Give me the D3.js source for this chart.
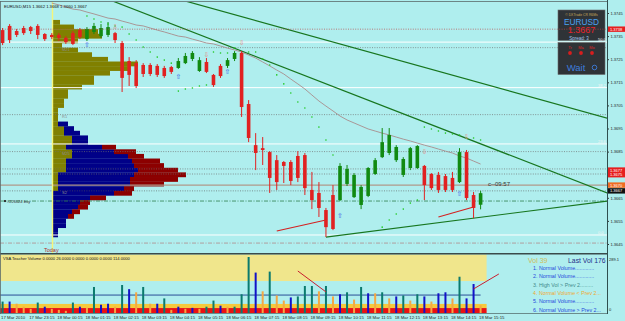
<!DOCTYPE html>
<html><head><meta charset="utf-8">
<script src="https://d3js.org/d3.v7.min.js"></script>
<style>
html,body{margin:0;padding:0;background:#afeeee;}
svg{display:block;font-family:"Liberation Sans",Arial,sans-serif;}
</style></head><body>
<svg id="chart" width="625" height="321"></svg>
<script>
// ================= DATA =================
const timeLabels=["17 Mar 2010","17 Mar 23:15","18 Mar 00:15","18 Mar 01:15","18 Mar 02:15","18 Mar 03:15","18 Mar 04:15","18 Mar 05:15","18 Mar 06:15","18 Mar 07:15","18 Mar 08:15","18 Mar 09:15","18 Mar 10:15","18 Mar 11:15","18 Mar 12:15","18 Mar 13:15","18 Mar 14:15","18 Mar 15:15"];
const open=[1.37376,1.37394,1.37372,1.37385,1.37389,1.37394,1.37359,1.37355,1.37355,1.37342,
1.37363,1.37376,1.37337,1.37368,1.37350,1.37355,1.37363,1.37320,1.37242,1.37233,
1.37225,1.37225,1.37221,1.37212,1.37216,1.37212,1.37233,1.37251,1.37199,1.37238,
1.37182,1.37221,1.37221,1.37251,1.37277,1.37056,1.36878,1.36865,1.36848,1.36813,
1.36805,1.36805,1.36831,1.36835,1.36684,1.36671,1.36597,1.36662,1.36640,1.36710,
1.36653,1.36619,1.36658,1.36753,1.36826,1.36844,1.36813,1.36749,1.36779,1.36779,
1.36788,1.36753,1.36749,1.36744,1.36736,1.36718,1.36848,1.36662,1.36620];
const high=[1.37385,1.37402,1.37381,1.37394,1.37394,1.37402,1.37363,1.37363,1.37363,1.37350,
1.37372,1.37385,1.37389,1.37407,1.37402,1.37411,1.37368,1.37329,1.37259,1.37246,
1.37233,1.37233,1.37229,1.37221,1.37221,1.37255,1.37277,1.37285,1.37259,1.37255,
1.37186,1.37229,1.37255,1.37285,1.37285,1.37073,1.36930,1.36913,1.36852,1.36835,
1.36809,1.36813,1.36852,1.36844,1.36762,1.36718,1.36606,1.36705,1.36800,1.36792,
1.36757,1.36705,1.36783,1.36822,1.36952,1.36952,1.36878,1.36826,1.36870,1.36878,
1.36792,1.36757,1.36762,1.36753,1.36762,1.36865,1.36857,1.36675,1.36680];
const low=[1.37311,1.37320,1.37346,1.37355,1.37359,1.37337,1.37329,1.37337,1.37329,1.37316,
1.37311,1.37337,1.37329,1.37359,1.37342,1.37346,1.37320,1.37108,1.37134,1.37125,
1.37173,1.37177,1.37173,1.37169,1.37186,1.37208,1.37229,1.37242,1.37195,1.37190,
1.37130,1.37169,1.37212,1.37242,1.37000,1.36891,1.36770,1.36792,1.36671,1.36684,
1.36714,1.36705,1.36718,1.36662,1.36601,1.36567,1.36480,1.36510,1.36636,1.36701,
1.36649,1.36601,1.36653,1.36749,1.36822,1.36835,1.36805,1.36740,1.36770,1.36775,
1.36640,1.36684,1.36671,1.36675,1.36675,1.36714,1.36640,1.36562,1.36600];
const close=[1.37320,1.37333,1.37355,1.37363,1.37372,1.37355,1.37337,1.37346,1.37342,1.37324,
1.37316,1.37346,1.37381,1.37394,1.37385,1.37389,1.37333,1.37169,1.37182,1.37134,
1.37186,1.37186,1.37182,1.37177,1.37195,1.37242,1.37264,1.37277,1.37246,1.37195,
1.37138,1.37177,1.37246,1.37277,1.37043,1.36909,1.36844,1.36857,1.36736,1.36718,
1.36788,1.36723,1.36736,1.36692,1.36640,1.36606,1.36523,1.36515,1.36788,1.36775,
1.36749,1.36697,1.36779,1.36813,1.36891,1.36922,1.36870,1.36818,1.36865,1.36874,
1.36705,1.36692,1.36684,1.36684,1.36684,1.36848,1.36649,1.36606,1.36670];
const sar=[null,null,null,null,null,null,null,null,null,null,null,null,
1.37437,1.37424,1.37411,1.37402,1.37394,1.37389,1.37359,1.37333,
1.37303,1.37281,1.37259,1.37246,1.37233,1.37112,1.37121,1.37125,1.37134,1.37138,
1.37281,1.37277,1.37277,1.37298,null,1.37281,1.37281,1.37251,1.37225,1.37182,
1.37143,1.37104,1.37065,1.37039,1.37000,1.36956,1.36900,1.36835,null,null,
null,null,null,null,1.36523,1.36554,1.36580,1.36601,1.36627,1.36640,
1.36956,1.36948,1.36939,1.36930,1.36926,1.36922,1.36909,1.36909,1.36900];
const ma=[null,null,null,null,null,null,null,1.37493,1.37485,1.37476,
1.37467,1.37463,1.37454,1.37446,1.37437,1.37428,1.37424,1.37415,1.37407,1.37398,
1.37394,1.37385,1.37376,1.37368,1.37359,1.37350,1.37346,1.37337,1.37329,1.37320,
1.37316,1.37307,1.37298,1.37290,1.37281,1.37268,1.37255,1.37238,1.37221,1.37203,
1.37186,1.37164,1.37143,1.37121,1.37095,1.37069,1.37047,1.37026,1.37004,1.36987,
1.36974,1.36961,1.36948,1.36939,1.36930,1.36922,1.36913,1.36904,1.36896,1.36887,
1.36878,1.36870,1.36861,1.36852,1.36844,1.36831,1.36822,1.36809,1.36796];
const volume=[58,58,47,32,21,53,32,21,16,11,53,32,26,132,42,47,32,142,121,105,132,47,47,74,16,32,21,26,21,32,63,37,32,32,95,284,205,110,210,89,63,79,84,137,137,110,137,84,95,105,68,132,100,100,105,74,84,89,63,95,84,58,100,105,74,184,74,147,39];
const volType=["T","B","O","O","O","T","B","O","O","O","T","B","O","T","B","B","O","T","B","O","T","O","B","T","O","B","O","B","O","T","T","B","O","T","T","T","B","O","T","O","O","B","T","T","T","O","T","O","B","T","O","T","B","O","T","O","B","T","O","T","B","O","B","B","O","T","B","B","O"];
const volAverage=91, volKhakiFrom=162, volYellowFrom=25, volYellowTo=46, volMax=289.1;
const priceTicks=[1.3745,1.3735,1.3725,1.3715,1.3705,1.3695,1.3685,1.3665,1.3655,1.3645];
const profTop=1.3742, profStep=0.0002;
const profOlive=[4,11,23,25,13,5,13,20,28,43,38,29,21,21,15,8,8,6,6,3,3,3,3,6,6,10,10,7,10,10,7,7,7,3,3,3,3,0,0,0,0,0,0,0,0,0,0];
const profBlue=[0,0,0,0,0,0,0,0,0,0,0,0,0,0,0,0,0,0,0,0,0,0,5,5,8,8,8,18,21,28,33,34,36,38,36,36,33,31,19,14,13,10,8,7,7,3,3];
const profRed=[0,0,0,0,0,0,0,0,0,0,0,0,0,0,0,0,0,0,0,0,0,0,0,0,0,0,0,7,11,8,14,15,20,26,24,17,5,9,8,5,5,4,3,0,0,0,0];
const fibLow=1.36489, fibHigh=1.38159, fibLevels=[0,23.6,38.2,50.0];
const dottedLevels=[1.3730,1.3701,1.3685,1.36775,1.36753];
const pivotNames=["M21","R1","M25","S2"], pivotPrices=[1.3730,1.3701,1.3685,1.3668];
const topLevel=1.3738, solidLevel=1.36705, bidLevel=1.3668, orderLevel=1.36636, lowLevel=1.36454;
const trendLines=[[[25.5,1.37506],[86,1.36995]],[[15.3,1.37506],[86,1.36671]],[[46,1.36480],[86,1.36636]]];
const redLinesMain=[[[39,1.36506],[46,1.36554]],[[62,1.36567],[67,1.36610]]];
const redLinesVol=[[[42,213],[46,107]],[[67,122],[70.6,198]]];
const upBars=[12,25,32,48,65], upPrices=[1.37311,1.37173,1.37195,1.36571,1.36666];
const downBars=[16,29,34,60,66], downPrices=[1.37389,1.37268,1.37320,1.36848,1.36913];
const redTags=[1.3738,1.3677,1.3675];
const legendItems=["1. Normal Volume.............","2. Normal Volume.............","3. High Vol > Prev 2.........","4. Normal Volume < Prev 2...","5. Normal Volume.............","6. Normal Volume > Prev 2..."];

// ================= SCALES =================
const svg=d3.select("#chart");
const x=d3.scaleLinear().domain([0,68]).range([2.6,480.6]);
const y=d3.scaleLinear().domain([1.3645,1.3745]).range([244,13]);
const yv=d3.scaleLinear().domain([0,volMax]).range([313,256]);
const px=d3.scaleLinear().domain([0,1]).range([52,54]);
const AX=607;

svg.append("rect").attr("width",625).attr("height",321).attr("fill","#afeeee");
svg.append("defs").append("clipPath").attr("id","main").append("rect").attr("x",0).attr("y",2).attr("width",AX).attr("height",251);
const main=svg.append("g").attr("clip-path","url(#main)");

// ---- profile ----
const bins=d3.range(profOlive.length);
const prof=main.append("g");
function profRect(arr,startArr,color){
  prof.selectAll(null).data(bins.filter(i=>arr[i]>0)).enter().append("rect")
   .attr("x",i=>px(startArr(i))).attr("width",i=>px(arr[i])-px(0))
   .attr("y",i=>y(profTop-profStep*i)).attr("height",i=>y(profTop-profStep*(i+1))-y(profTop-profStep*i)+0.2)
   .attr("fill",color);
}
profRect(profOlive,i=>0,"#808000");
profRect(profBlue,i=>profOlive[i],"#000088");
profRect(profRed,i=>profOlive[i]+profBlue[i],"#8c0000");

// ---- horizontal levels ----
function hline(g,v,color,w,dash){
  g.append("line").attr("x1",0).attr("x2",AX).attr("y1",y(v)).attr("y2",y(v))
   .attr("stroke",color).attr("stroke-width",w).attr("stroke-dasharray",dash||null);
}
fibLevels.forEach(l=>hline(main,fibLow+(fibHigh-fibLow)*l/100,"#ffffff",1));
dottedLevels.forEach(v=>hline(main,v,"#6e6e6e",0.7,"1,1.4"));
hline(main,solidLevel,"#b0988a",1.1);
hline(main,bidLevel,"#555555",0.6,"1,1.4");
hline(main,orderLevel,"#2f7f4f",0.8,"4,1.5,1,1.5");
hline(main,lowLevel,"#b09494",0.9,"4,1.5,1,1.5");
pivotNames.forEach((n,i)=>main.append("text").attr("x",62).attr("y",y(pivotPrices[i])+3.5).attr("font-size",4).attr("fill","#8a8a8a").text(n));

// today separator
main.append("line").attr("x1",52.5).attr("x2",52.5).attr("y1",2).attr("y2",253).attr("stroke","#f6f67a").attr("stroke-width",1.4);

// trend lines
const line=d3.line().x(d=>x(d[0])).y(d=>y(d[1]));
trendLines.forEach(t=>main.append("path").attr("d",line(t)).attr("stroke","#17761f").attr("stroke-width",1.2).attr("fill","none"));
redLinesMain.forEach(t=>main.append("path").attr("d",line(t)).attr("stroke","#d42020").attr("stroke-width",1.1).attr("fill","none"));

// MA
const maLine=d3.line().defined(d=>d!=null).x((d,i)=>x(i)).y(d=>y(d));
main.append("path").attr("d",maLine(ma)).attr("stroke","#a88c8c").attr("stroke-width",0.9).attr("fill","none");

// candles
const idx=d3.range(open.length);
const col=i=>close[i]>=open[i]?"#118a11":"#e12121";
main.selectAll(".wick").data(idx).enter().append("line")
  .attr("x1",i=>x(i)).attr("x2",i=>x(i)).attr("y1",i=>y(high[i])).attr("y2",i=>y(low[i]))
  .attr("stroke",col).attr("stroke-width",1);
main.selectAll(".body").data(idx).enter().append("rect")
  .attr("x",i=>x(i)-1.8).attr("width",3.6)
  .attr("y",i=>y(Math.max(open[i],close[i])))
  .attr("height",i=>Math.max(1,y(Math.min(open[i],close[i]))-y(Math.max(open[i],close[i]))))
  .attr("fill",col);

// SAR dots
main.selectAll(".sar").data(idx.filter(i=>sar[i]!=null)).enter().append("circle")
  .attr("cx",i=>x(i)).attr("cy",i=>y(sar[i])).attr("r",0.8).attr("fill","#1ec81e");

// arrows
upBars.forEach((b,i)=>main.append("text").attr("x",x(b)).attr("y",y(upPrices[i])).attr("text-anchor","middle").attr("dominant-baseline","central")
  .attr("font-family","DejaVu Sans").attr("font-size",7).attr("fill","#3a64e6").text("\u21E7"));
downBars.forEach((b,i)=>main.append("text").attr("x",x(b)).attr("y",y(downPrices[i])).attr("text-anchor","middle").attr("dominant-baseline","central")
  .attr("font-family","DejaVu Sans").attr("font-size",7).attr("fill","#e08a8a").text("\u21E9"));

// texts in main
main.append("text").attr("x",4).attr("y",8).attr("font-size",4.2).attr("fill","#111").text("EURUSD,M15  1.3662 1.3668 1.3660 1.3667");
main.append("rect").attr("x",4).attr("y",y(orderLevel)-1).attr("width",2).attr("height",2).attr("fill","#333");
main.append("text").attr("x",7).attr("y",y(orderLevel)+1.5).attr("font-size",4).attr("fill","#333").text("#226024 buy");
main.append("text").attr("x",488).attr("y",y(solidLevel)+1).attr("font-size",6).attr("fill","#333").text("c--09:57");
main.append("text").attr("x",44).attr("y",252).attr("font-size",5.5).attr("fill","#b03030").text("Today");

// ---- top right info panel ----
const pn=svg.append("g");
pn.append("rect").attr("x",558).attr("y",10).attr("width",47).attr("height",30.5).attr("fill","#2f3337").attr("stroke","#6b6b6b").attr("stroke-width",0.6);
pn.append("rect").attr("x",558).attr("y",42.5).attr("width",47).attr("height",32).attr("fill","#2f3337").attr("stroke","#6b6b6b").attr("stroke-width",0.6);
pn.append("text").attr("x",581.5).attr("y",15.5).attr("text-anchor","middle").attr("font-size",3.4).attr("fill","#c9a85a").text("\u00A9 DXTrade CR R6Ms");
pn.append("text").attr("x",581.5).attr("y",24.5).attr("text-anchor","middle").attr("font-size",8.3).attr("fill","#4aa2f2").text("EURUSD");
pn.append("text").attr("x",581.5).attr("y",33).attr("text-anchor","middle").attr("font-size",9).attr("fill","#e8222a").text("1.3667");
pn.append("text").attr("x",579).attr("y",39.6).attr("text-anchor","middle").attr("font-size",4.5).attr("fill","#a4c8ea").text("Spread: 3");
["Tr","Ma","Mo"].forEach((t,i)=>{
  pn.append("text").attr("x",570+i*11).attr("y",49).attr("text-anchor","middle").attr("font-size",3.8).attr("fill","#e02222").text(t);
  pn.append("circle").attr("cx",570+i*11).attr("cy",53).attr("r",1.9).attr("fill","#d81e1e");
});
pn.append("text").attr("x",576).attr("y",71).attr("text-anchor","middle").attr("font-size",9.5).attr("fill","#3d7ddc").text("Wait");
pn.append("circle").attr("cx",594.5).attr("cy",67.5).attr("r",2.3).attr("fill","none").attr("stroke","#3d7ddc").attr("stroke-width",0.9);

// fib level labels (drawn over the panel, as in the terminal)
fibLevels.forEach(l=>{
  const v=fibLow+(fibHigh-fibLow)*l/100;
  svg.append("text").attr("x",598).attr("y",y(v)-1).attr("font-size",4).attr("fill","#f4f4f4").text(l.toFixed(1));
});

// red dotted top level over panel
svg.append("line").attr("x1",0).attr("x2",AX).attr("y1",y(topLevel)).attr("y2",y(topLevel)).attr("stroke","#b84646").attr("stroke-width",0.7).attr("stroke-dasharray","1,1.4");

// ---- right price axis ----
const ax=svg.append("g").attr("transform",`translate(${AX},0)`)
  .call(d3.axisRight(y).tickValues(priceTicks).tickSize(2).tickPadding(1.5).tickFormat(d3.format(".4f")));
ax.select(".domain").remove();
ax.selectAll("text").attr("font-size",4).attr("fill","#1c1c1c").attr("font-family","Liberation Sans, Arial");
ax.selectAll("line").attr("stroke","#333");
svg.append("line").attr("x1",AX+0.5).attr("x2",AX+0.5).attr("y1",0).attr("y2",314).attr("stroke","#2f4f4f").attr("stroke-width",1);

function tag(v,color,label){
  svg.append("rect").attr("x",AX+1).attr("y",y(v)-2.7).attr("width",17).attr("height",5.4).attr("fill",color);
  svg.append("text").attr("x",AX+3).attr("y",y(v)+1.5).attr("font-size",4).attr("fill","#fff").text(label);
}
redTags.forEach(v=>tag(v,"#e61e1e",v.toFixed(4)));
tag(solidLevel,"#f06c22","1.3670");
tag(bidLevel,"#111111","1.3667");

// ---- volume panel ----
const vp=svg.append("g");
const vEnd=x(68)+6;
vp.append("rect").attr("x",0).attr("y",254.5).attr("width",vEnd).attr("height",yv(volKhakiFrom)-254.5).attr("fill","#f0e68c");
vp.append("rect").attr("x",0).attr("y",yv(volYellowTo)).attr("width",vEnd).attr("height",yv(volYellowFrom)-yv(volYellowTo)).attr("fill","#f6c93c");
vp.append("rect").attr("x",0).attr("y",yv(volYellowFrom)).attr("width",vEnd).attr("height",yv(0)-yv(volYellowFrom)).attr("fill","#ea1212");
vp.append("line").attr("x1",0).attr("x2",x(68)).attr("y1",yv(volAverage)).attr("y2",yv(volAverage)).attr("stroke","#1c3c8c").attr("stroke-width",0.9);
const vcol={T:"#0b7a6e",B:"#1212c8",O:"#f4a844"};
vp.selectAll(".vb").data(idx).enter().append("rect")
  .attr("x",i=>x(i)-1).attr("width",2).attr("y",i=>yv(volume[i])).attr("height",i=>yv(0)-yv(volume[i]))
  .attr("fill",i=>vcol[volType[i]]);
const vline=d3.line().x(d=>x(d[0])).y(d=>yv(d[1]));
redLinesVol.forEach(t=>vp.append("path").attr("d",vline(t)).attr("stroke","#c81e2e").attr("stroke-width",1).attr("fill","none"));
vp.append("line").attr("x1",0).attr("x2",AX).attr("y1",253.8).attr("y2",253.8).attr("stroke","#3a4a4a").attr("stroke-width",1.4);
vp.append("line").attr("x1",0).attr("x2",AX).attr("y1",313.5).attr("y2",313.5).attr("stroke","#3a4a4a").attr("stroke-width",0.6);
vp.append("text").attr("x",3).attr("y",260).attr("font-size",4.1).attr("fill","#111").text("VSA Teacher Volume 0.0000 26.0000 0.0000 0.0000 0.0000 114.0000");
vp.append("text").attr("x",528).attr("y",262.5).attr("font-size",7).attr("fill","#cfbd5a").text("Vol  39");
vp.append("text").attr("x",605.5).attr("y",262.5).attr("text-anchor","end").attr("font-size",6.8).attr("fill","#1f2f88").text("Last Vol  176");
const legCol=["#2648dc","#2648dc","#3f8a8a","#f0a830","#2648dc","#2648dc"];
legendItems.forEach((t,i)=>vp.append("text").attr("x",533).attr("y",270+i*8.3).attr("font-size",5.3).attr("fill",legCol[i]).text(t));
svg.append("text").attr("x",AX+2).attr("y",261).attr("font-size",4).attr("fill","#1c1c1c").text(volMax.toFixed(1));
svg.append("text").attr("x",AX+2).attr("y",311).attr("font-size",4).attr("fill","#1c1c1c").text("0");

// ---- time axis ----
svg.selectAll(".tl").data(timeLabels).enter().append("text")
  .attr("x",(d,i)=>x(i*4)-1.5).attr("y",318.5).attr("font-size",4.3).attr("fill","#1c1c1c").text(d=>d);

// frame
svg.append("line").attr("x1",0).attr("x2",AX).attr("y1",1.5).attr("y2",1.5).attr("stroke","#5a6a6a").attr("stroke-width",0.8);
svg.append("line").attr("x1",0.5).attr("x2",0.5).attr("y1",1).attr("y2",314).attr("stroke","#5a6a6a").attr("stroke-width",0.8);
</script></body></html>
